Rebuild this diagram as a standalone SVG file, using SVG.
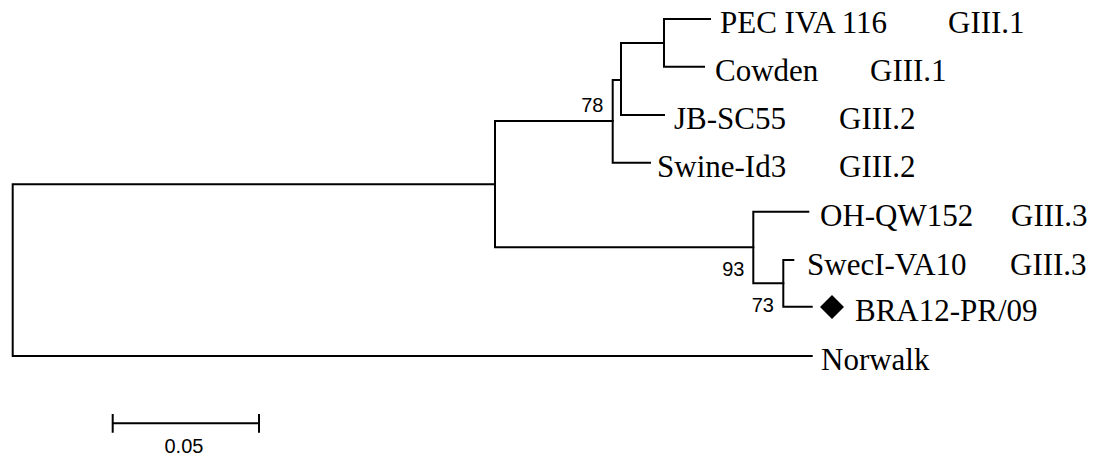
<svg xmlns="http://www.w3.org/2000/svg" width="1094" height="460" viewBox="0 0 1094 460">
<style>
.br{fill:none;stroke:#000;stroke-width:2;stroke-linecap:square}
.tip{font-family:"Liberation Serif","Times New Roman",serif;font-size:31px;fill:#000}
.bs{font-family:"Liberation Sans",Arial,sans-serif;font-size:20px;fill:#000}
</style>
<rect width="1094" height="460" fill="#fff"/>
<g id="connectors">
<path class="br" d="M12.7,184.3 V356 M12.7,184.3 H495 M12.7,356 H811.7"/>
<path class="br" d="M495,121 V247.3 M495,121 H612.7 M495,247.3 H753.3"/>
<path class="br" d="M612.7,80 V162.7 M612.7,80 H621 M612.7,162.7 H650"/>
<path class="br" d="M621,43 V115 M621,43 H664 M621,115 H664"/>
<path class="br" d="M664,19 V66.7 M664,19 H710 M664,66.7 H704"/>
<path class="br" d="M753.3,211.7 V283.3 M753.3,211.7 H808.3 M753.3,283.3 H783.3"/>
<path class="br" d="M783.3,260 V306.7 M783.3,260 H793.3 M783.3,306.7 H811.7"/>
</g>
<g id="node-pec"><text class="tip" x="720" y="33">PEC IVA 116</text><text class="tip" x="948" y="33">GIII.1</text></g>
<g id="node-cowden"><text class="tip" x="715" y="81">Cowden</text><text class="tip" x="870" y="81">GIII.1</text></g>
<g id="node-jb"><text class="tip" x="674" y="129">JB-SC55</text><text class="tip" x="839" y="129">GIII.2</text></g>
<g id="node-swine"><text class="tip" x="657" y="177">Swine-Id3</text><text class="tip" x="839" y="177">GIII.2</text></g>
<g id="node-oh"><text class="tip" x="820" y="225.5">OH-QW152</text><text class="tip" x="1011" y="225.5">GIII.3</text></g>
<g id="node-swec"><text class="tip" x="807" y="275">SwecI-VA10</text><text class="tip" x="1010" y="275">GIII.3</text></g>
<g id="node-bra"><polygon points="832,295 844,307 832,319 820,307" fill="#000"/><text class="tip" x="855" y="321">BRA12-PR/09</text></g>
<g id="node-norwalk"><text class="tip" x="821" y="369.5">Norwalk</text></g>
<g id="bootstrap">
<text class="bs" x="603.5" y="112" text-anchor="end">78</text>
<text class="bs" x="744.5" y="275.7" text-anchor="end">93</text>
<text class="bs" x="774" y="311.7" text-anchor="end">73</text>
</g>
<g id="scale">
<path class="br" d="M112.7,423.3 H259 M112.7,415 V431.7 M259,415 V431.7" stroke-linecap="butt"/>
<text class="bs" x="164.5" y="453">0.05</text>
</g>
</svg>
